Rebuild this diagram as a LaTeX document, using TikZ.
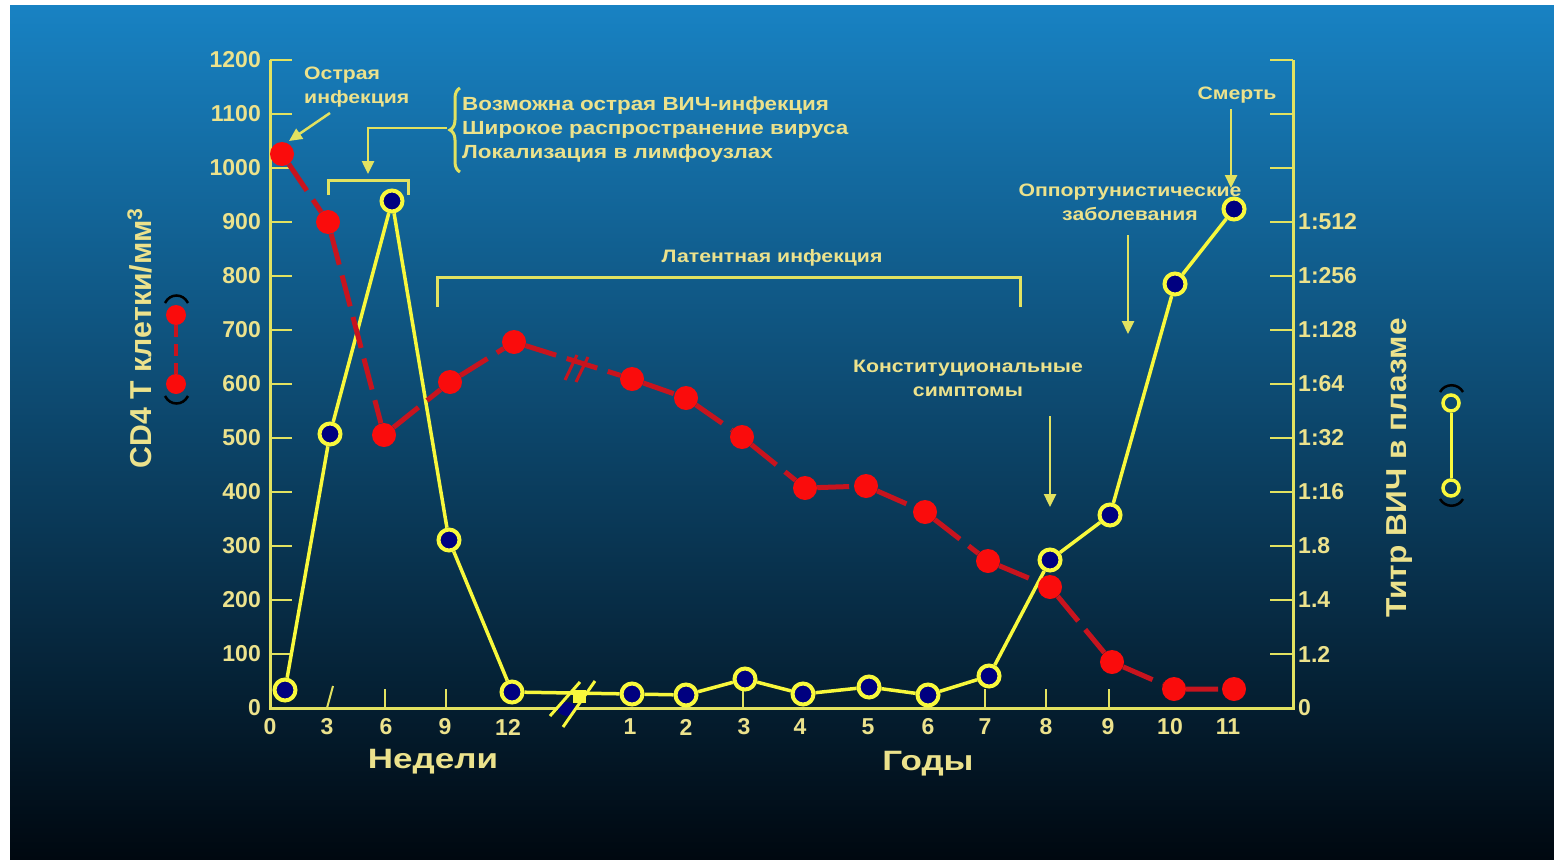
\documentclass[tikz,border=0pt]{standalone}
\usepackage{fontspec}
\usepackage{graphicx}
\setmainfont{Liberation Sans}
\usetikzlibrary{arrows.meta,decorations.pathreplacing}
\definecolor{bgtop}{RGB}{24,130,195}
\definecolor{bgmid}{RGB}{10,62,102}
\definecolor{bgbot}{RGB}{0,8,16}
\definecolor{axcol}{RGB}{226,226,96}
\definecolor{txtcol}{RGB}{236,226,140}
\definecolor{datcol}{RGB}{248,248,60}
\definecolor{redline}{RGB}{200,20,30}
\definecolor{reddot}{RGB}{250,12,12}
\definecolor{navy}{RGB}{0,0,128}
\newcommand{\sx}[1]{\scalebox{1.18}[1]{#1}}
\tikzset{
  axisline/.style={draw=axcol, line width=3pt},
  tickline/.style={draw=axcol, line width=2pt},
  ticklab/.style={text=txtcol, font=\fontsize{23}{25}\selectfont\bfseries, inner sep=0pt},
  annot/.style={text=txtcol, font=\fontsize{18}{24}\selectfont\bfseries, inner sep=0pt},
  bracetext/.style={text=txtcol, font=\fontsize{19}{24}\selectfont\bfseries, inner sep=0pt},
  bigtitle/.style={text=txtcol, font=\fontsize{28}{30}\selectfont\bfseries, inner sep=0pt},
  hivpt/.style={circle, fill=navy, draw=datcol, line width=4pt, minimum size=21pt, inner sep=0pt},
  cdpt/.style={circle, fill=reddot, minimum size=24pt, inner sep=0pt},
  hivline/.style={draw=datcol, line width=3.5pt},
  cdline/.style={draw=redline, line width=5pt, dash pattern=on 32pt off 11pt},
  bracketline/.style={draw=axcol, line width=3pt},
  annarrow/.style={draw=axcol, line width=2.5pt, -{Triangle[length=13pt,width=12pt]}},
  parenarc/.style={draw=black, line width=2.5pt},
}
\begin{document}
\begin{tikzpicture}[x=1pt,y=-1pt]
\useasboundingbox (0,0) rectangle (1554,859);
\fill[white] (0,0) rectangle (1554,859);
\shade[top color=bgtop, middle color=bgmid, bottom color=bgbot] (10,6) rectangle (1554,859);

% brackets
\draw[bracketline] (328,195) -- (328,180) -- (408,180) -- (408,195);
\draw[bracketline] (437,307) -- (437,277) -- (1020,277) -- (1020,307);
\draw[draw=axcol, line width=3pt, decorate, decoration={brace, amplitude=10pt}] (460,172) -- (460,88);
\coordinate (bracetip) at (447,128);
\coordinate (bendpt) at (368,128);
\coordinate (acutebr) at (368,174);
\draw[annarrow] (bracetip) -- (bendpt) -- (acutebr);

% axes
\draw[axisline] (270,60) -- (270,708) -- (1293,708) -- (1293,60);
\foreach \k in {0,...,12} {
  \draw[tickline] (270,{60+54*\k}) -- (292,{60+54*\k});
  \draw[tickline] (1270,{60+54*\k}) -- (1293,{60+54*\k});
}
\foreach \xx in {385,446,743,985,1046,1109} \draw[tickline] (\xx,708) -- (\xx,689);
\draw[tickline] (327,708) -- (333,686);

\foreach \v [count=\k from 0] in {1200,1100,...,0}
  \node[ticklab, anchor=east] (lt\k) at (261,{60+54*\k}) {\v};
\foreach \lab [count=\k from 3] in {1:512,1:256,1:128,1:64,1:32,1:16,1.8,1.4,1.2,0}
  \node[ticklab, anchor=west] (rt\k) at (1298,{60+54*\k}) {\lab};
\foreach \xx/\lab [count=\i] in {270/0,327/3,386/6,445/9,508/12,630/1,686/2,744/3,800/4,868/5,928/6,985/7,1046/8,1108/9,1170/10,1228/11}
  \node[ticklab] (bt\i) at (\xx,727) {\lab};

% x-axis break
\fill[navy] (567,709) ellipse (9 and 7);
\draw[datcol, line width=3pt] (550,716) -- (580,682);
\draw[datcol, line width=3pt] (563,727) -- (595,681);
\fill[datcol] (573,690) rectangle (586,703);

% HIV titer series
\foreach \n/\xx/\yy in {1/285/690,2/330/434,3/392/201,4/449/540,5/512/692,6/632/694,7/686/695,8/745/679,9/803/694,10/869/687,11/928/695,12/989/676,13/1050/560,14/1110/515,15/1175/284,16/1234/209}
  \node[hivpt] (h\n) at (\xx,\yy) {};
\draw[hivline] (h1) -- (h2) -- (h3) -- (h4) -- (h5) -- (h6) -- (h7) -- (h8) -- (h9) -- (h10) -- (h11) -- (h12) -- (h13) -- (h14) -- (h15) -- (h16);

% CD4 series
\foreach \n/\xx/\yy in {1/282/154,2/328/222,3/384/435,4/450/382,5/514/342,6/632/379,7/686/398,8/742/437,9/805/488,10/866/486,11/925/512,12/988/561,13/1050/587,14/1112/662,15/1174/689,16/1234/689}
  \node[cdpt] (c\n) at (\xx,\yy) {};
\draw[cdline] (c1) -- (c2) -- (c3) -- (c4) -- (c5) -- (c6) -- (c7) -- (c8) -- (c9) -- (c10) -- (c11) -- (c12) -- (c13) -- (c14) -- (c15) -- (c16);
\draw[draw=redline, line width=3pt] (565,380) -- (577,355);
\draw[draw=redline, line width=3pt] (576,382) -- (588,357);

% annotations
\node[annot, anchor=west] (acute) at (304,87) {\sx{\begin{tabular}{@{}l@{}}Острая\\инфекция\end{tabular}}};
\coordinate (acs) at (330,113);
\coordinate (ace) at (289,141);
\draw[annarrow] (acs) -- (ace);

\node[bracetext, anchor=west] (bracetxt) at (462,130) {\sx{\begin{tabular}{@{}l@{}}Возможна острая ВИЧ-инфекция\\Широкое распространение вируса\\Локализация в лимфоузлах\end{tabular}}};

\node[annot] (latent) at (772,258) {\sx{Латентная инфекция}};

\node[annot] (const) at (968,380) {\sx{\begin{tabular}{@{}c@{}}Конституциональные\\симптомы\end{tabular}}};
\coordinate (cos) at (1050,416);
\coordinate (coe) at (1050,507);
\draw[annarrow] (cos) -- (coe);

\node[annot] (opport) at (1130,204) {\sx{\begin{tabular}{@{}c@{}}Оппортунистические\\заболевания\end{tabular}}};
\coordinate (ops) at (1128,235);
\coordinate (ope) at (1128,334);
\draw[annarrow] (ops) -- (ope);

\node[annot] (death) at (1237,95) {\sx{Смерть}};
\coordinate (des) at (1231,109);
\coordinate (dee) at (1231,188);
\draw[annarrow] (des) -- (dee);

% axis titles
\node[bigtitle, rotate=90] (ytitle) at (140,338) {\scalebox{1.08}[1.08]{CD4 T клетки/мм\textsuperscript{3}}};
\node[bigtitle, rotate=90] (y2title) at (1400,468) {\scalebox{1.13}[1.03]{Титр ВИЧ в плазме}};
\node[bigtitle] (weeks) at (433,762) {\scalebox{1.25}[1]{Недели}};
\node[bigtitle] (years) at (928,764) {\scalebox{1.25}[1]{Годы}};

% legends
\node[cdpt, minimum size=20pt] (lg1) at (176,315) {};
\node[cdpt, minimum size=20pt] (lg2) at (176,384) {};
\draw[draw=redline, line width=3.5pt, dash pattern=on 12pt off 7pt] (lg1) -- (lg2);
\draw[parenarc] (165,303) .. controls (170,293) and (183,293) .. (188,303);
\draw[parenarc] (165,396) .. controls (170,406) and (183,406) .. (188,396);

\node[circle, draw=datcol, line width=3.5pt, minimum size=16pt, inner sep=0pt] (lr1) at (1451,403) {};
\node[circle, draw=datcol, line width=3.5pt, minimum size=16pt, inner sep=0pt] (lr2) at (1451,488) {};
\draw[draw=datcol, line width=3pt] (lr1) -- (lr2);
\draw[parenarc] (1440,392) .. controls (1445,383) and (1458,383) .. (1463,392);
\draw[parenarc] (1440,499) .. controls (1445,508) and (1458,508) .. (1463,499);
\end{tikzpicture}
\end{document}
